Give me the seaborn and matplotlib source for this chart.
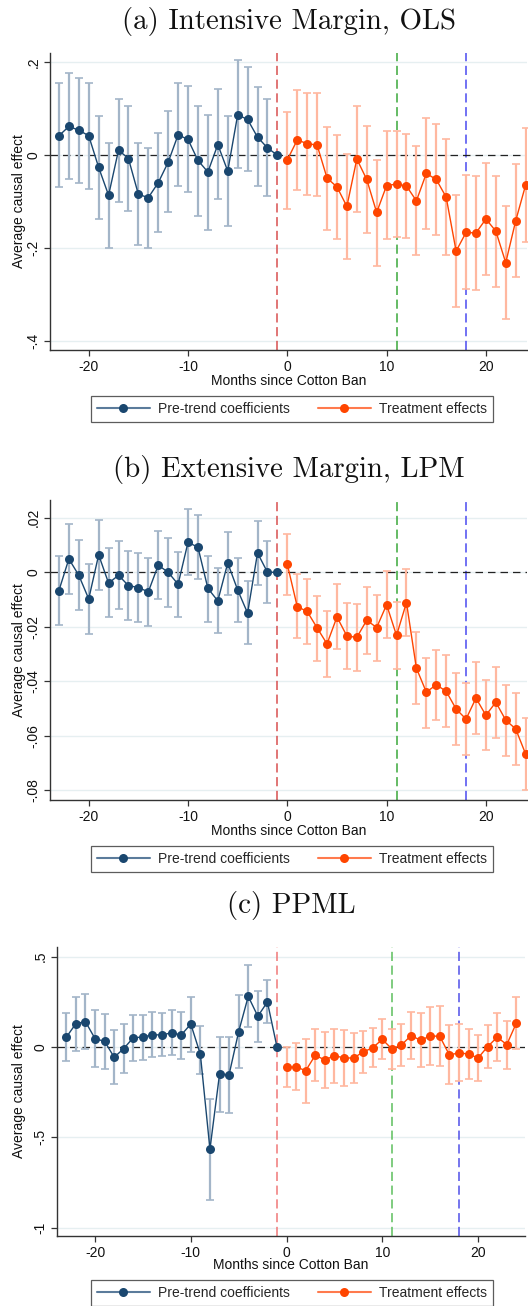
import numpy as np
import pandas as pd
import matplotlib
matplotlib.use("Agg")
import matplotlib.pyplot as plt
from matplotlib.lines import Line2D
from matplotlib.ticker import FuncFormatter
import seaborn as sns

nan = np.nan
months_pre = list(range(-23, 0))
months_post = list(range(0, 25))

# Panel (a) Intensive margin, OLS
a_pre = [0.042, 0.062, 0.054, 0.042, -0.026, -0.086, 0.011, -0.007, -0.084, -0.091, -0.059, -0.015,
         0.044, 0.034, -0.011, -0.036, 0.023, -0.034, 0.087, 0.077, 0.039, 0.016, 0.0]
a_pre_hi = [0.155, 0.177, 0.167, 0.156, 0.085, 0.027, 0.122, 0.107, 0.026, 0.016, 0.049, 0.095,
            0.155, 0.148, 0.107, 0.087, 0.142, 0.084, 0.204, 0.190, 0.146, 0.122, nan]
a_pre_lo = [-0.069, -0.051, -0.060, -0.072, -0.137, -0.199, -0.101, -0.120, -0.192, -0.200, -0.166, -0.123,
            -0.065, -0.080, -0.130, -0.160, -0.095, -0.151, -0.027, -0.034, -0.067, -0.088, nan]
a_post = [-0.010, 0.033, 0.025, 0.022, -0.049, -0.068, -0.110, -0.008, -0.052, -0.123, -0.065, -0.062,
          -0.066, -0.098, -0.039, -0.052, -0.090, -0.206, -0.166, -0.167, -0.137, -0.163, -0.231, -0.141, -0.064]
a_post_hi = [0.094, 0.141, 0.135, 0.133, 0.060, 0.043, 0.002, 0.107, 0.063, -0.010, 0.052, 0.052,
             0.045, 0.019, 0.081, 0.067, 0.034, -0.085, -0.043, -0.044, -0.016, -0.044, -0.109, -0.019, 0.058]
a_post_lo = [-0.115, -0.075, -0.085, -0.087, -0.160, -0.180, -0.222, -0.123, -0.167, -0.238, -0.181, -0.176,
             -0.178, -0.215, -0.159, -0.171, -0.214, -0.326, -0.288, -0.290, -0.257, -0.284, -0.353, -0.262, -0.186]

# Panel (b) Extensive margin, LPM
b_pre = [-0.0067, 0.0049, -0.0011, -0.0098, 0.0064, -0.0040, -0.0011, -0.0049, -0.0056, -0.0072, 0.0026, 0.0,
         -0.0044, 0.0110, 0.0092, -0.0059, -0.0105, 0.0034, -0.0065, -0.0150, 0.0071, 0.0, 0.0]
b_pre_hi = [0.0061, 0.0177, 0.0117, 0.0032, 0.0193, 0.0088, 0.0116, 0.0077, 0.0069, 0.0054, 0.0152, 0.0125,
            0.0075, 0.0232, 0.0212, 0.0061, 0.0015, 0.0149, 0.0054, -0.0033, 0.0187, 0.0113, nan]
b_pre_lo = [-0.0194, -0.0081, -0.0138, -0.0225, -0.0066, -0.0166, -0.0136, -0.0176, -0.0182, -0.0198, -0.0098, -0.0126,
            -0.0163, -0.0011, -0.0026, -0.0181, -0.0224, -0.0084, -0.0182, -0.0265, -0.0045, -0.0114, nan]
b_post = [0.0029, -0.0126, -0.0144, -0.0204, -0.0263, -0.0164, -0.0234, -0.0239, -0.0176, -0.0203, -0.0119, -0.0232,
          -0.0111, -0.0352, -0.0440, -0.0413, -0.0437, -0.0502, -0.0539, -0.0462, -0.0525, -0.0477, -0.0543, -0.0575, -0.0667]
b_post_hi = [0.0142, -0.0007, -0.0026, -0.0086, -0.0142, -0.0044, -0.0111, -0.0116, -0.0053, -0.0082, 0.0004, -0.0110,
             0.0011, -0.0221, -0.0313, -0.0285, -0.0305, -0.0369, -0.0407, -0.0330, -0.0396, -0.0346, -0.0415, -0.0444, -0.0536]
b_post_lo = [-0.0083, -0.0243, -0.0263, -0.0324, -0.0384, -0.0283, -0.0356, -0.0363, -0.0300, -0.0327, -0.0242, -0.0354,
             -0.0234, -0.0482, -0.0571, -0.0544, -0.0569, -0.0634, -0.0670, -0.0594, -0.0654, -0.0608, -0.0673, -0.0708, -0.0799]

# Panel (c) PPML
c_pre = [0.054, 0.129, 0.140, 0.046, 0.031, -0.057, -0.009, 0.052, 0.054, 0.068, 0.066, 0.079,
         0.066, 0.127, -0.041, -0.566, -0.151, -0.153, 0.085, 0.280, 0.170, 0.249, 0.0]
c_pre_hi = [0.186, 0.279, 0.292, 0.207, 0.183, 0.094, 0.127, 0.177, 0.175, 0.192, 0.186, 0.205,
            0.196, 0.275, 0.118, -0.288, 0.057, 0.055, 0.286, 0.452, 0.312, 0.369, nan]
c_pre_lo = [-0.079, -0.020, -0.013, -0.113, -0.122, -0.207, -0.146, -0.077, -0.072, -0.054, -0.050, -0.044,
            -0.065, -0.026, -0.149, -0.847, -0.360, -0.365, -0.116, 0.109, 0.026, 0.133, nan]
c_post = [-0.113, -0.111, -0.131, -0.046, -0.072, -0.048, -0.061, -0.061, -0.028, -0.004, 0.042, -0.011,
          0.011, 0.063, 0.037, 0.061, 0.059, -0.044, -0.033, -0.039, -0.061, 0.002, 0.054, 0.013, 0.133]
c_post_hi = [0.0, 0.022, 0.044, 0.098, 0.083, 0.101, 0.096, 0.076, 0.090, 0.103, 0.157, 0.098,
             0.129, 0.196, 0.186, 0.223, 0.225, 0.120, 0.125, 0.101, 0.066, 0.124, 0.186, 0.146, 0.277]
c_post_lo = [-0.220, -0.238, -0.310, -0.190, -0.227, -0.197, -0.216, -0.197, -0.146, -0.113, -0.068, -0.124,
             -0.105, -0.065, -0.113, -0.100, -0.105, -0.207, -0.190, -0.179, -0.186, -0.118, -0.076, -0.120, -0.011]

titles = ["(a) Intensive Margin, OLS", "(b) Extensive Margin, LPM", "(c) PPML"]
xlabel = "Months since Cotton Ban"
ylabel = "Average causal effect"
legend_labels = ["Pre-trend coefficients", "Treatment effects"]
x_ticks = [-20, -10, 0, 10, 20]
y_ticks = [[-0.4, -0.2, 0, 0.2], [-0.08, -0.06, -0.04, -0.02, 0, 0.02], [-1, -0.5, 0, 0.5]]
event_lines = [-1, 11, 18]

sns.set_theme(style="white")
plt.rcParams["font.family"] = ["Liberation Sans", "DejaVu Sans"]

NAVY = "#1a476f"
NAVY_CI = "#a3b5c8"
NAVY_LEG = "#5b7b9b"
ORANGE = "#ff4500"
ORANGE_CI = "#ffb8a0"
ORANGE_LEG = "#ff7a4d"

W, H = 528, 1306
fig = plt.figure(figsize=(W / 100, H / 100), dpi=100)

# layout in pixels: left, right, top, bottom
layouts = [
    dict(l=50, r=527.3, t=52.7, b=350, ylim=(-0.4187, 0.2206), xlim=(-23.9, 24.17), title_y=21,
         xl_y=381, leg=(292, 409), vcol=["#d85050", "#3aa83a", "#4a4af0"]),
    dict(l=50, r=527.3, t=500, b=800, ylim=(-0.0836, 0.02653), xlim=(-23.9, 24.17), title_y=469,
         xl_y=831, leg=(292, 859), vcol=["#d85050", "#3aa83a", "#4a4af0"]),
    dict(l=57.3, r=525, t=946.7, b=1236, ylim=(-1.0465, 0.555), xlim=(-23.94, 24.9), title_y=905,
         xl_y=1265, leg=(292, 1293), vcol=["#f07878", "#5cbf5c", "#5050e8"]),
]

data = [
    (a_pre, a_pre_lo, a_pre_hi, a_post, a_post_lo, a_post_hi),
    (b_pre, b_pre_lo, b_pre_hi, b_post, b_post_lo, b_post_hi),
    (c_pre, c_pre_lo, c_pre_hi, c_post, c_post_lo, c_post_hi),
]


def fmt(v, pos):
    if abs(v) < 1e-12:
        return "0"
    s = ("%g" % v)
    s = s.replace("0.", ".")
    return s


for i, (lay, d) in enumerate(zip(layouts, data)):
    pre, pre_lo, pre_hi, post, post_lo, post_hi = d
    ax = fig.add_axes([lay["l"] / W, 1 - lay["b"] / H, (lay["r"] - lay["l"]) / W, (lay["b"] - lay["t"]) / H])
    ax.set_xlim(*lay["xlim"])
    ax.set_ylim(*lay["ylim"])
    ax.set_facecolor("white")

    for yt in y_ticks[i]:
        ax.axhline(yt, color="#e6eff1", lw=1.0, zorder=0)
    for xv, c in zip(event_lines, lay["vcol"]):
        ax.axvline(xv, color=c, lw=1.1, ls=(0, (6, 3)), zorder=1)
    ax.axhline(0, color="#222222", lw=0.9, ls=(0, (6, 4)), zorder=1.5)

    pre_df = pd.DataFrame({"month": months_pre, "est": pre, "lo": pre_lo, "hi": pre_hi})
    post_df = pd.DataFrame({"month": months_post, "est": post, "lo": post_lo, "hi": post_hi})

    for df, ci_col in ((pre_df, NAVY_CI), (post_df, ORANGE_CI)):
        m = df.dropna()
        ax.errorbar(m["month"], m["est"], yerr=[m["est"] - m["lo"], m["hi"] - m["est"]],
                    fmt="none", ecolor=ci_col, elinewidth=1.6, capsize=3, capthick=1.2, zorder=2)

    sns.lineplot(data=pre_df, x="month", y="est", ax=ax, color=NAVY, lw=1.0, marker="o",
                 markersize=6.5, markeredgewidth=0, zorder=3, legend=False)
    sns.lineplot(data=post_df, x="month", y="est", ax=ax, color=ORANGE, lw=1.0, marker="o",
                 markersize=6.5, markeredgewidth=0, zorder=3, legend=False)

    ax.set_xticks(x_ticks)
    ax.set_yticks(y_ticks[i])
    ax.yaxis.set_major_formatter(FuncFormatter(fmt))
    ax.xaxis.set_major_formatter(FuncFormatter(lambda v, p: "%d" % v))
    ax.tick_params(axis="both", which="major", direction="out", length=4, width=0.9,
                   color="#333333", labelsize=10, labelcolor="#111111", bottom=True, left=True, pad=3)
    plt.setp(ax.get_yticklabels(), rotation=90, va="center")
    for side in ("top", "right"):
        ax.spines[side].set_visible(False)
    for side in ("left", "bottom"):
        ax.spines[side].set_color("#333333")
        ax.spines[side].set_linewidth(1.0)

    ax.set_xlabel("")
    ax.set_ylabel("")
    fig.text(((lay["l"] + lay["r"]) / 2) / W, 1 - lay["xl_y"] / H, xlabel, ha="center", va="center",
             fontsize=10, color="#111111")
    fig.text(19 / W, 1 - ((lay["t"] + lay["b"]) / 2) / H, ylabel, ha="center", va="center",
             rotation=90, fontsize=10, color="#111111")
    fig.text(((lay["l"] + lay["r"]) / 2) / W, 1 - lay["title_y"] / H, titles[i], ha="center", va="center",
             fontsize=20.8, family="cmr10", color="#111111")

    handles = [
        Line2D([], [], color=NAVY_LEG, lw=1.5, marker="o", markersize=6.5, markerfacecolor=NAVY,
               markeredgewidth=0),
        Line2D([], [], color=ORANGE_LEG, lw=1.5, marker="o", markersize=6.5, markerfacecolor=ORANGE,
               markeredgewidth=0),
    ]
    lx, ly = lay["leg"]
    leg = fig.legend(handles, legend_labels, loc="center", bbox_to_anchor=(lx / W, 1 - ly / H), ncol=2,
                     fontsize=10, frameon=True, fancybox=False, handlelength=3.8, handletextpad=0.6,
                     columnspacing=2.0, borderpad=0.45, borderaxespad=0)
    leg.get_frame().set_edgecolor("#333333")
    leg.get_frame().set_linewidth(0.9)

fig.savefig("out.png", dpi=100, facecolor="white")
